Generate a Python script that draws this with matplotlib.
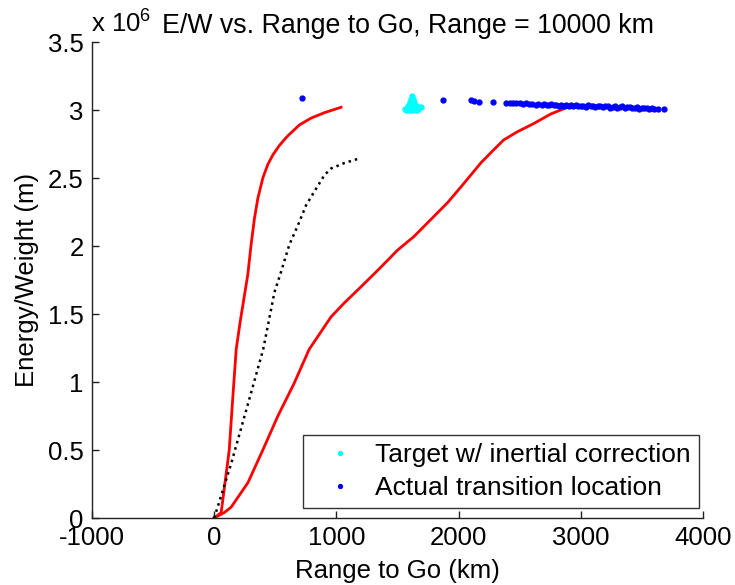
import numpy as np
import matplotlib
matplotlib.use("Agg")
import matplotlib.pyplot as plt

plt.rcParams['font.family'] = ['Liberation Sans', 'DejaVu Sans']
plt.rcParams['mathtext.fontset'] = 'custom'
plt.rcParams['mathtext.rm'] = 'Liberation Sans'
plt.rcParams['mathtext.it'] = 'Liberation Sans'
plt.rcParams['axes.unicode_minus'] = False

# energy/weight in units of 1e6 m, range to go in km
upper_x = [0, 57, 123, 151, 180, 212, 248, 275, 302, 329, 357, 398, 439, 480,
           534, 602, 697, 792, 901, 1038]
upper_y = [0.0, 0.04, 0.50, 0.87, 1.24, 1.44, 1.64, 1.79, 2.01, 2.20, 2.35,
           2.50, 2.60, 2.67, 2.74, 2.81, 2.89, 2.94, 2.98, 3.02]

lower_x = [0, 82, 139, 276, 398, 521, 654, 777, 957, 1063, 1201, 1348, 1501,
           1635, 1911, 2043, 2181, 2279, 2369, 2481, 2614, 2753, 2890]
lower_y = [0.0, 0.04, 0.08, 0.26, 0.50, 0.75, 0.99, 1.24, 1.48, 1.58, 1.70,
           1.83, 1.97, 2.07, 2.32, 2.46, 2.61, 2.70, 2.78, 2.84, 2.90, 2.97, 3.02]

mid_x = [0, 139, 286, 401, 493, 547, 615, 684, 752, 833, 901, 956, 1065, 1174]
mid_y = [0.0, 0.40, 0.87, 1.24, 1.66, 1.81, 2.01, 2.15, 2.30, 2.42, 2.52,
         2.57, 2.61, 2.64]

target_x = [1620, 1612, 1628, 1605, 1635, 1598, 1642, 1590, 1650, 1582, 1660,
            1575, 1668, 1568, 1680, 1562, 1690, 1580, 1600, 1620, 1640, 1660,
            1610, 1630, 1650, 1595, 1615, 1625, 1645, 1585]
target_y = [3.10, 3.08, 3.08, 3.06, 3.06, 3.04, 3.04, 3.03, 3.03, 3.02, 3.02,
            3.01, 3.01, 3.00, 3.02, 3.01, 3.02, 3.00, 3.00, 3.00, 3.00, 3.00,
            3.02, 3.02, 3.01, 3.02, 3.04, 3.05, 3.02, 3.01]

actual_x = [720, 1875, 2100, 2125, 2170, 2280, 2390, 2420, 2445, 2470, 2500,
            2525, 2550, 2580, 2600, 2630, 2650, 2680, 2700, 2720, 2740, 2760,
            2780, 2800, 2820, 2840, 2860, 2880, 2900, 2920, 2940, 2960, 2980,
            3000, 3020, 3040, 3060, 3080, 3100, 3120, 3140, 3160, 3180, 3200,
            3220, 3240, 3260, 3280, 3300, 3320, 3340, 3360, 3380, 3400, 3420,
            3440, 3460, 3480, 3500, 3520, 3540, 3560, 3580, 3600, 3630, 3680]
actual_y = [3.09, 3.07, 3.07, 3.065, 3.06, 3.06, 3.055, 3.05, 3.052, 3.048, 3.05,
            3.045, 3.048, 3.042, 3.046, 3.04, 3.044, 3.038, 3.046, 3.04, 3.036, 3.042,
            3.035, 3.04, 3.032, 3.038, 3.03, 3.036, 3.03, 3.034, 3.028, 3.036, 3.026,
            3.032, 3.03, 3.024, 3.034, 3.026, 3.03, 3.022, 3.028, 3.032, 3.02, 3.026,
            3.03, 3.018, 3.024, 3.028, 3.016, 3.022, 3.026, 3.014, 3.02, 3.024, 3.012,
            3.018, 3.02, 3.01, 3.016, 3.012, 3.018, 3.01, 3.014, 3.008, 3.01, 3.005]

fs = 18.5

fig = plt.figure(figsize=(7.35, 5.85), dpi=100)
ax = fig.add_axes([92/735, 67/585, 611/735, 476/585])

ax.plot(upper_x, upper_y, color='red', lw=2)
ax.plot(lower_x, lower_y, color='red', lw=2)
ax.plot(mid_x, mid_y, color='black', lw=1.8, linestyle=(0, (1, 1.6)))
ax.plot(target_x, target_y, '.', color='cyan', ms=7, label='Target w/ inertial correction')
ax.plot(actual_x, actual_y, '.', color='blue', ms=7, label='Actual transition location')

ax.set_xlim(-1000, 4000)
ax.set_ylim(0, 3.5)
ax.set_xticks([-1000, 0, 1000, 2000, 3000, 4000])
ax.set_yticks(np.arange(0, 3.51, 0.5))
ax.set_yticklabels(['0', '0.5', '1', '1.5', '2', '2.5', '3', '3.5'])

for s in ['top', 'right']:
    ax.spines[s].set_visible(False)
for s in ['left', 'bottom']:
    ax.spines[s].set_color('#222222')
    ax.spines[s].set_linewidth(1)
ax.tick_params(direction='in', length=5, width=1, labelsize=fs, pad=6, colors='#222222')
ax.tick_params(labelcolor='black')

ax.set_xlabel('Range to Go (km)', fontsize=fs, labelpad=6)
ax.set_ylabel('Energy/Weight (m)', fontsize=fs, labelpad=6)

# scale factor label and title
fig.text(91/735, 1 - 33/585, r'x 10$^{6}$', fontsize=fs, va='baseline', ha='left')
fig.text(408/735, 1 - 33/585, 'E/W vs. Range to Go, Range = 10000 km',
         fontsize=19.3, va='baseline', ha='center')

leg = ax.legend(loc='lower right', bbox_to_anchor=(699/735, 77/585), bbox_transform=fig.transFigure,
                fontsize=19, frameon=True, fancybox=False, markerscale=0.8,
                handlelength=2.2, handletextpad=0.25, borderpad=0.3, labelspacing=0.35,
                borderaxespad=0)
leg.get_frame().set_edgecolor('black')
leg.get_frame().set_linewidth(1)

fig.savefig('out.png', dpi=100)
